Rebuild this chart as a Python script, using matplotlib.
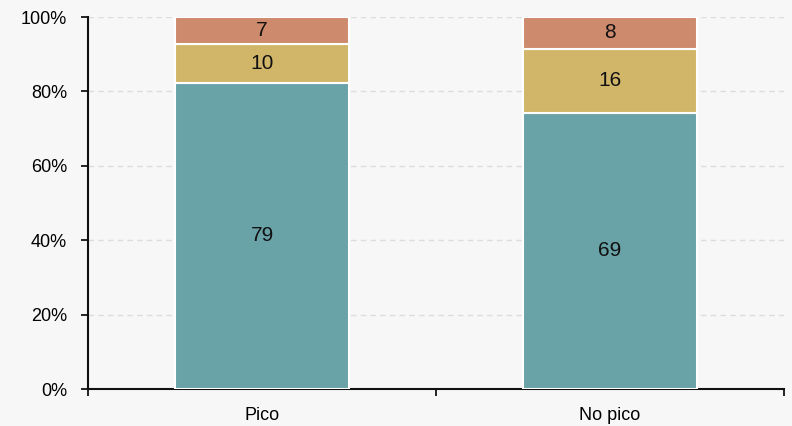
import matplotlib
matplotlib.use("Agg")
import matplotlib.pyplot as plt
import numpy as np

plt.rcParams['font.family'] = ['Liberation Sans', 'DejaVu Sans']

categories = ["Pico", "No pico"]
bottom_vals = [79, 69]
middle_vals = [10, 16]
top_vals = [7, 8]
y_ticks = [0, 20, 40, 60, 80, 100]
y_tick_labels = ["0%", "20%", "40%", "60%", "80%", "100%"]

colors = ["#69a3a8", "#d1b66a", "#cd8a6c"]
bg = "#f7f7f7"

series = [np.array(bottom_vals, float), np.array(middle_vals, float), np.array(top_vals, float)]
totals = sum(series)
shares = [s / totals * 100 for s in series]

fig = plt.figure(figsize=(7.92, 4.26), dpi=100, facecolor=bg)
ax = fig.add_axes([88 / 792, 1 - 389 / 426, (784 - 88) / 792, (389 - 17) / 426])
ax.set_facecolor(bg)

x = np.arange(len(categories))
base = np.zeros(len(categories))
for vals, share, c in zip(series, shares, colors):
    ax.bar(x, share, width=0.5, bottom=base, color=c, edgecolor="white",
           linewidth=1.5, zorder=3)
    for xi, b, sh, v in zip(x, base, share, vals):
        ax.text(xi, b + sh / 2, f"{v:g}", ha="center", va="center", fontsize=15,
                color="#111111", zorder=4)
    base = base + share

ax.set_xlim(-0.5, 1.5)
ax.set_ylim(0, 100)
ax.set_yticks(y_ticks)
ax.set_yticklabels(y_tick_labels, fontsize=13)
ax.yaxis.grid(True, linestyle=(0, (4, 3)), color="#dddddd", linewidth=1, zorder=0)

ax.set_xticks([-0.5, 0.5, 1.5])
ax.set_xticklabels(["", "", ""])
ax.set_xticks(x, minor=True)
ax.set_xticklabels(categories, minor=True, fontsize=13)
ax.tick_params(axis="x", which="minor", length=0, pad=13)
ax.tick_params(axis="x", which="major", length=5, width=1.2, direction="out")
ax.tick_params(axis="y", length=5, width=1.2, direction="out", pad=10)

for side in ["top", "right"]:
    ax.spines[side].set_visible(False)
for side in ["left", "bottom"]:
    ax.spines[side].set_linewidth(1.5)
    ax.spines[side].set_color("#111111")

fig.savefig("out.png", dpi=100, facecolor=bg)
